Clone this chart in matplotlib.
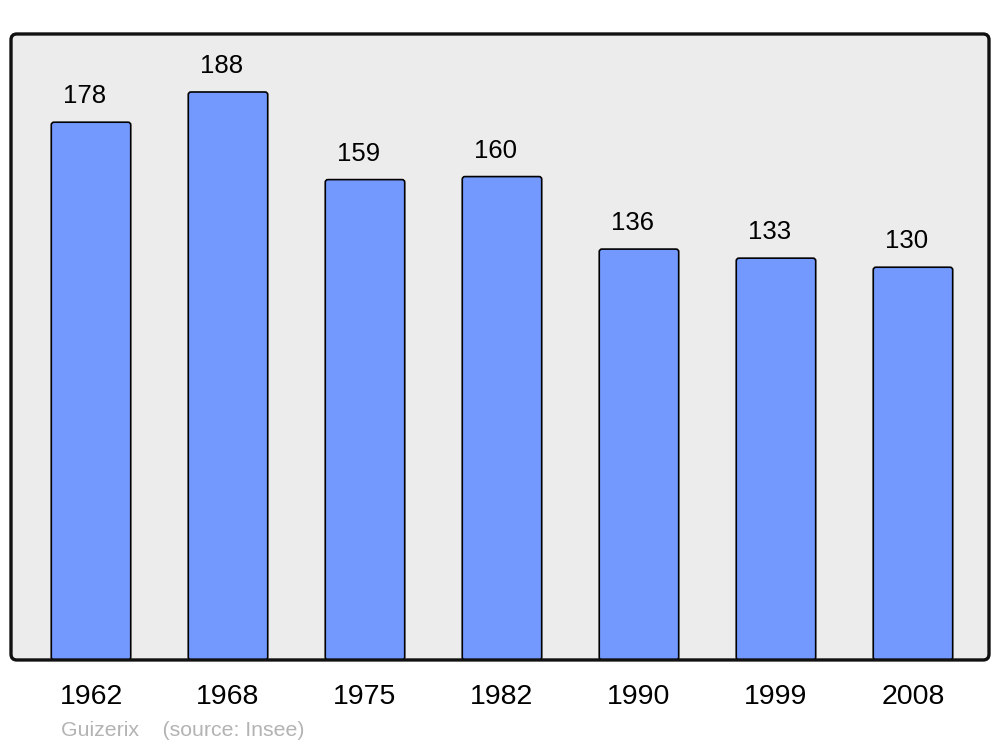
import matplotlib
matplotlib.use("Agg")
import matplotlib.pyplot as plt
from matplotlib.patches import FancyBboxPatch

plt.rcParams["font.family"] = ["Liberation Sans", "DejaVu Sans"]

years = ["1962", "1968", "1975", "1982", "1990", "1999", "2008"]
population = [178, 188, 159, 160, 136, 133, 130]

fig = plt.figure(figsize=(10, 7.47), dpi=100)
ax = fig.add_axes([0.011, 0.1165, 0.978, 0.838])
ax.set_xlim(-0.584, 6.555)
ax.set_ylim(0, 207.2)
ax.axis("off")

# fond gris et cadre arrondi
asp = (0.978 * 1000) / (0.838 * 747)
bg = FancyBboxPatch((0, 0), 1, 1, boxstyle="round,pad=0,rounding_size=0.006",
                    mutation_aspect=asp, transform=ax.transAxes,
                    facecolor="#ececec", edgecolor="none", zorder=0, clip_on=False)
frame = FancyBboxPatch((0, 0), 1, 1, boxstyle="round,pad=0,rounding_size=0.006",
                       mutation_aspect=asp, transform=ax.transAxes,
                       facecolor="none", edgecolor="#111111", linewidth=2.4,
                       zorder=4, clip_on=False)
ax.add_patch(bg)
ax.add_patch(frame)

x = list(range(len(years)))
bars = ax.bar(x, population, width=0.58, color="#7399ff", edgecolor="black", linewidth=1.2)

# coins arrondis des barres
bar_aspect = (978 / 7.139) / (626 / 207.2)
for b in bars:
    b.set_visible(False)
    rb = FancyBboxPatch((b.get_x(), b.get_y()), b.get_width(), b.get_height(),
                        boxstyle="round,pad=0,rounding_size=0.02",
                        mutation_aspect=bar_aspect,
                        facecolor="#7399ff", edgecolor="black", linewidth=1.2, zorder=2)
    ax.add_patch(rb)

for xi, v in zip(x, population):
    ax.annotate(str(v), (xi - 0.045, v), xytext=(0, 10), textcoords="offset points",
                ha="center", va="bottom", fontsize=18.5, color="black")

for xi, y in zip(x, years):
    ax.text(xi, -12.1, y, ha="center", va="center", fontsize=20.5, color="black")

fig.text(0.061, 1 - 730 / 747, "Guizerix    (source: Insee)", ha="left", va="center",
         fontsize=15.3, color="#b3b3b3")

fig.savefig("out.png", dpi=100)
